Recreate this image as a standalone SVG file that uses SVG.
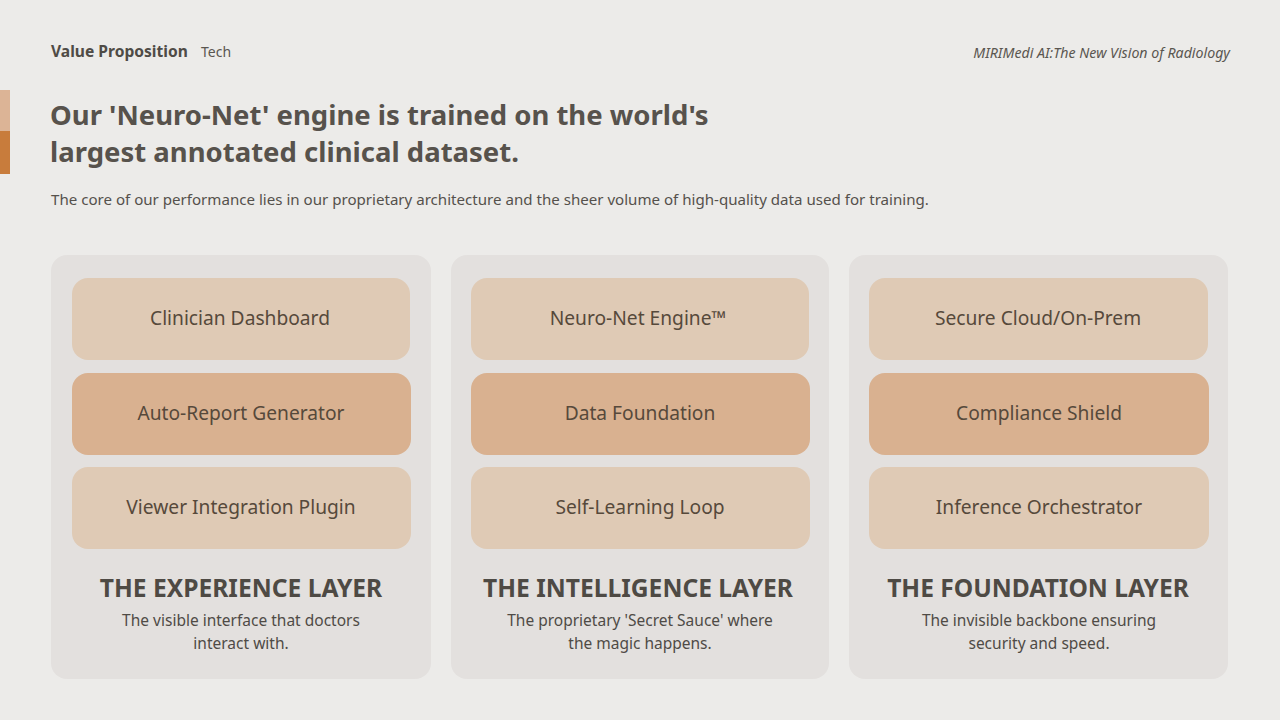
<svg xmlns="http://www.w3.org/2000/svg" width="1280" height="720" viewBox="0 0 1280 720">
<style>
text{font-family:"Noto Sans","Liberation Sans",sans-serif;}
.hdr{font-size:15.6px;font-weight:700;fill:#4f4b46;}
.tag{font-size:14px;fill:#5a5650;}
.brand{font-size:14.2px;font-style:italic;fill:#5a5650;}
.title{font-size:27.5px;font-weight:700;fill:#57524c;}
.sub{font-size:15.1px;fill:#55514c;}
.panel{fill:#e3e0de;}
.item-l{fill:#dfcab5;}
.item-d{fill:#d9b190;}
.itxt{font-size:19.2px;fill:#56493b;text-anchor:middle;}
.ltitle{font-size:24.6px;font-weight:700;fill:#4e4a44;text-anchor:middle;}
.ldesc{font-size:15.5px;fill:#4f4b46;text-anchor:middle;}
</style>
<rect width="1280" height="720" fill="#ecebe9"/>
<rect x="0" y="90" width="10" height="41" fill="#dcb496"/>
<rect x="0" y="131" width="10" height="43" fill="#c87c3c"/>
<text class="hdr" x="51" y="57">Value Proposition</text>
<text class="tag" x="201" y="57">Tech</text>
<text class="brand" x="1230" y="58" text-anchor="end">MIRIMedi AI:The New Vision of Radiology</text>
<text class="title" x="50" y="125">Our 'Neuro-Net' engine is trained on the world's</text>
<text class="title" x="50" y="162">largest annotated clinical dataset.</text>
<text class="sub" x="51" y="205">The core of our performance lies in our proprietary architecture and the sheer volume of high-quality data used for training.</text>
<g id="experience-layer">
<rect class="panel" x="51" y="255" width="380" height="424" rx="16"/>
<g id="clinician-dashboard"><rect class="item-l" x="72" y="278" width="338" height="82" rx="16"/><text class="itxt" x="240" y="325">Clinician Dashboard</text></g>
<g id="auto-report-generator"><rect class="item-d" x="72" y="373" width="339" height="82" rx="16"/><text class="itxt" x="241" y="420">Auto-Report Generator</text></g>
<g id="viewer-integration-plugin"><rect class="item-l" x="72" y="467" width="339" height="82" rx="16"/><text class="itxt" x="241" y="514">Viewer Integration Plugin</text></g>
<text class="ltitle" x="241" y="597">THE EXPERIENCE LAYER</text>
<text class="ldesc" x="241" y="626">The visible interface that doctors</text>
<text class="ldesc" x="241" y="649">interact with.</text>
</g>
<g id="intelligence-layer">
<rect class="panel" x="451" y="255" width="378" height="424" rx="16"/>
<g id="neuro-net-engine"><rect class="item-l" x="471" y="278" width="338" height="82" rx="16"/><text class="itxt" x="638" y="325">Neuro-Net Engine™</text></g>
<g id="data-foundation"><rect class="item-d" x="471" y="373" width="339" height="82" rx="16"/><text class="itxt" x="640" y="420">Data Foundation</text></g>
<g id="self-learning-loop"><rect class="item-l" x="471" y="467" width="339" height="82" rx="16"/><text class="itxt" x="640" y="514">Self-Learning Loop</text></g>
<text class="ltitle" x="638" y="597">THE INTELLIGENCE LAYER</text>
<text class="ldesc" x="640" y="626">The proprietary 'Secret Sauce' where</text>
<text class="ldesc" x="640" y="649">the magic happens.</text>
</g>
<g id="foundation-layer">
<rect class="panel" x="849" y="255" width="379" height="424" rx="16"/>
<g id="secure-cloud"><rect class="item-l" x="869" y="278" width="339" height="82" rx="16"/><text class="itxt" x="1038" y="325">Secure Cloud/On-Prem</text></g>
<g id="compliance-shield"><rect class="item-d" x="869" y="373" width="340" height="82" rx="16"/><text class="itxt" x="1039" y="420">Compliance Shield</text></g>
<g id="inference-orchestrator"><rect class="item-l" x="869" y="467" width="340" height="82" rx="16"/><text class="itxt" x="1039" y="514">Inference Orchestrator</text></g>
<text class="ltitle" x="1038" y="597">THE FOUNDATION LAYER</text>
<text class="ldesc" x="1039" y="626">The invisible backbone ensuring</text>
<text class="ldesc" x="1039" y="649">security and speed.</text>
</g>
<g id="connectors"/>
</svg>
